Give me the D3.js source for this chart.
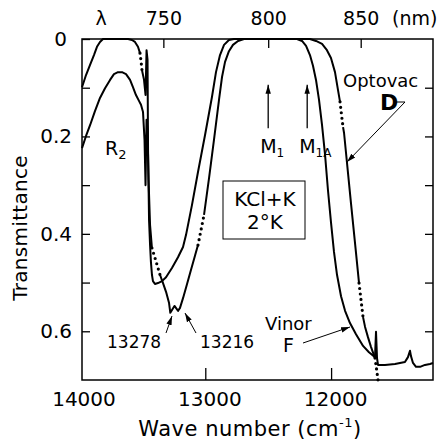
<!DOCTYPE html>
<html>
<head>
<meta charset="utf-8">
<script src="https://cdn.jsdelivr.net/npm/d3@7"></script>
<style>
  body { margin: 0; background: #fff; }
  svg { display: block; font-family: "DejaVu Sans", sans-serif; }
</style>
</head>
<body>
<div id="chart"></div>
<script>
// KCl+K at 2 K : transmittance against wave number (cm-1)
// each curve is [wave number, transmittance]; the *Dots lists hold the
// wave number ranges that are only drawn as dots
const curveF = [
  [13980, 0.099], [13948, 0.074], [13916, 0.053], [13885, 0.033], [13861, 0.016], [13837, 0.006], [13813, 0],
  [13614, 0], [13583, 0.002], [13559, 0.006], [13535, 0.016], [13519, 0.029], [13511, 0.045], [13503, 0.064],
  [13487, 0.084], [13475, 0.115], [13467, 0.023], [13459, 0.043], [13455, 0.228], [13447, 0.372], [13439, 0.423],
  [13432, 0.458], [13424, 0.484], [13416, 0.497], [13400, 0.503], [13376, 0.501], [13344, 0.497], [13312, 0.489],
  [13265, 0.470], [13217, 0.448], [13177, 0.427], [13153, 0.402], [13106, 0.341], [13058, 0.273], [13002, 0.197],
  [12947, 0.119], [12915, 0.068], [12883, 0.033], [12851, 0.012], [12812, 0.002], [12772, 0],
  [12271, 0], [12231, 0.004], [12199, 0.014], [12168, 0.033], [12144, 0.055], [12120, 0.084], [12096, 0.125],
  [12072, 0.177], [12048, 0.238], [12025, 0.310], [12001, 0.376], [11977, 0.437], [11953, 0.484], [11921, 0.528],
  [11889, 0.558], [11850, 0.583], [11802, 0.606], [11746, 0.630], [11699, 0.643], [11651, 0.653], [11643, 0.601],
  [11635, 0.655], [11627, 0.669], [11572, 0.669], [11492, 0.667], [11413, 0.663], [11389, 0.653], [11373, 0.640],
  [11365, 0.651], [11349, 0.665], [11325, 0.673], [11293, 0.673], [11254, 0.669], [11214, 0.667], [11190, 0.665]
]
const curveFDots = [[13519, 13503]]

const curveD = [
  [13980, 0.224], [13948, 0.199], [13916, 0.177], [13877, 0.148], [13837, 0.121], [13797, 0.101], [13757, 0.084],
  [13726, 0.072], [13694, 0.068], [13662, 0.068], [13630, 0.072], [13598, 0.084], [13575, 0.099], [13551, 0.115],
  [13527, 0.127], [13511, 0.135], [13495, 0.150], [13483, 0.207], [13475, 0.300], [13467, 0.166], [13459, 0.187],
  [13451, 0.289], [13439, 0.382], [13424, 0.429], [13392, 0.456], [13360, 0.484], [13336, 0.501], [13312, 0.519],
  [13288, 0.542], [13278, 0.562], [13245, 0.548], [13216, 0.558], [13201, 0.552], [13177, 0.532], [13145, 0.503],
  [13114, 0.474], [13082, 0.445], [13058, 0.423], [13034, 0.392], [13010, 0.361], [12970, 0.285], [12931, 0.207],
  [12891, 0.125], [12867, 0.078], [12843, 0.047], [12812, 0.025], [12780, 0.012], [12740, 0.004], [12692, 0],
  [12223, 0], [12168, 0], [12120, 0.004], [12072, 0.010], [12033, 0.023], [12001, 0.039], [11969, 0.068],
  [11945, 0.105], [11929, 0.129], [11917, 0.156], [11905, 0.181], [11897, 0.193], [11842, 0.337], [11802, 0.439],
  [11778, 0.501], [11762, 0.536], [11746, 0.571], [11730, 0.591], [11707, 0.612], [11683, 0.632], [11651, 0.655],
  [11639, 0.677], [11627, 0.700]
]
const curveDDots = [[13424, 13360], [13058, 13010], [11929, 11905], [11778, 11746], [11651, 11627]]

const yTicks = [0, 0.1, 0.2, 0.3, 0.4, 0.5, 0.6]
const yLabels = [0, 0.2, 0.4, 0.6]
const xTicks = [13000, 12000]
const xLabels = [14000, 13000, 12000]
const nmTicks = [750, 800, 850]
const bands = [{name: "M", sub: "1", w: 12500}, {name: "M", sub: "1A", w: 12190}]
const peaks = [13278, 13216]

const width = 445, height = 443
const margin = ({top: 39, right: 12, bottom: 63, left: 82})
const svg = d3.select("#chart").append("svg")
    .attr("width", width)
    .attr("height", height)

const x = d3.scaleLinear()
    .domain([13980, 11190])
    .range([margin.left, width - margin.right])
const y = d3.scaleLinear()
    .domain([0, 0.7])
    .range([margin.top, height - margin.bottom])

const defs = svg.append("defs")
defs.append("marker")
    .attr("id", "head")
    .attr("viewBox", "0 0 10 10")
    .attr("refX", 10).attr("refY", 5)
    .attr("markerWidth", 9).attr("markerHeight", 9)
    .attr("markerUnits", "userSpaceOnUse")
    .attr("orient", "auto")
  .append("path")
    .attr("d", "M0,2L10,5L0,8Z")
    .attr("fill", "#000")

// frame
svg.append("rect")
    .attr("x", x.range()[0]).attr("y", y.range()[0])
    .attr("width", x.range()[1] - x.range()[0])
    .attr("height", y.range()[1] - y.range()[0])
    .attr("fill", "none").attr("stroke", "#000").attr("stroke-width", 1.5)

function styleAxis(sel, size) {
  sel.select(".domain").remove()
  sel.attr("font-size", size).attr("font-family", "DejaVu Sans, sans-serif")
  sel.selectAll(".tick line").attr("stroke-width", 1.3)
}

// left axis
svg.append("g")
    .attr("transform", `translate(${margin.left},0)`)
    .call(d3.axisLeft(y).tickValues(yTicks).tickSize(-8).tickPadding(10)
      .tickFormat(d => yLabels.includes(d) ? (d === 0 ? "0" : d3.format(".1f")(d)) : ""))
    .call(g => styleAxis(g, 20))
    .call(g => g.selectAll("text").filter(d => d === 0).attr("dx", -5))

// right axis
svg.append("g")
    .attr("transform", `translate(${width - margin.right},0)`)
    .call(d3.axisRight(y).tickValues(yTicks.slice(1)).tickSize(-8).tickFormat(""))
    .call(g => styleAxis(g, 20))

// bottom axis: ticks, then labels
svg.append("g")
    .attr("transform", `translate(0,${height - margin.bottom})`)
    .call(d3.axisBottom(x).tickValues(xTicks).tickSize(-12).tickFormat(""))
    .call(g => styleAxis(g, 20))
svg.append("g")
    .attr("transform", `translate(0,${height - margin.bottom})`)
    .call(d3.axisBottom(x).tickValues(xLabels).tickSize(0).tickPadding(12).tickFormat(d3.format("d")))
    .call(g => styleAxis(g, 20))
    .call(g => g.selectAll("text").attr("dx", 4))

// top axis in nm
svg.append("g")
    .attr("transform", `translate(0,${margin.top})`)
    .call(d3.axisTop(x).tickValues(nmTicks.map(nm => 1e7 / nm)).tickSize(-9).tickPadding(14)
      .tickFormat((d, i) => nmTicks[i]))
    .call(g => styleAxis(g, 19))

svg.append("text").attr("x", 101).attr("y", 25).attr("text-anchor", "middle")
    .attr("font-size", 19).text("λ")
svg.append("text").attr("x", 392).attr("y", 25)
    .attr("font-size", 19).text("(nm)")

// axis titles
svg.append("text")
    .attr("transform", "translate(27,228) rotate(-90)")
    .attr("text-anchor", "middle").attr("font-size", 20).attr("letter-spacing", 0.3)
    .text("Transmittance")
const xt = svg.append("text")
    .attr("x", 250).attr("y", 436).attr("text-anchor", "middle")
    .attr("font-size", 21).attr("letter-spacing", 0.5)
xt.append("tspan").text("Wave number (cm")
xt.append("tspan").attr("font-size", 13).attr("dy", -9).text("-1")
xt.append("tspan").attr("dy", 9).text(")")

// curves
function drawCurve(points, dots) {
  const inDots = d => dots.some(([hi, lo]) => d[0] < hi && d[0] > lo)
  const solid = d3.line().defined(d => !inDots(d)).x(d => x(d[0])).y(d => y(d[1]))
  const plain = d3.line().x(d => x(d[0])).y(d => y(d[1]))
  svg.append("path")
      .datum(points)
      .attr("d", solid)
      .attr("fill", "none").attr("stroke", "#000").attr("stroke-width", 2)
      .attr("stroke-linejoin", "round")
  dots.forEach(([hi, lo]) => {
    svg.append("path")
        .datum(points.filter(d => d[0] <= hi && d[0] >= lo))
        .attr("d", plain)
        .attr("fill", "none").attr("stroke", "#000").attr("stroke-width", 3.2)
        .attr("stroke-linecap", "round").attr("stroke-dasharray", "0,5.5")
  })
}
drawCurve(curveF, curveFDots)
drawCurve(curveD, curveDDots)

// band arrows M1, M1A
bands.forEach((b, i) => {
  svg.append("line")
      .attr("x1", x(b.w)).attr("x2", x(b.w))
      .attr("y1", y(0.183)).attr("y2", y(0.094))
      .attr("stroke", "#000").attr("stroke-width", 1.3)
      .attr("marker-end", "url(#head)")
  const t = svg.append("text")
      .attr("x", x(b.w) - 8).attr("y", 153).attr("font-size", 19)
  t.append("tspan").text(b.name)
  t.append("tspan").attr("font-size", 12).attr("dy", 4).text(b.sub)
})

// R2
const r2 = svg.append("text").attr("x", 105).attr("y", 155).attr("font-size", 19)
r2.append("tspan").text("R")
r2.append("tspan").attr("font-size", 13).attr("dy", 4).text("2")

// sample box
svg.append("rect")
    .attr("x", 223).attr("y", 181).attr("width", 82).attr("height", 58)
    .attr("fill", "none").attr("stroke", "#000").attr("stroke-width", 1)
svg.append("text").attr("x", 265).attr("y", 206).attr("text-anchor", "middle")
    .attr("font-size", 20).text("KCl+K")
svg.append("text").attr("x", 265).attr("y", 229).attr("text-anchor", "middle")
    .attr("font-size", 20).text("2°K")

// peak labels
const peakLabel = [
  {x: 107, tail: [166, 333], tip: [172, 316]},
  {x: 200, tail: [196, 333], tip: [185, 313]}
]
peaks.forEach((p, i) => {
  const l = peakLabel[i]
  svg.append("text").attr("x", l.x).attr("y", 348).attr("font-size", 17).text(p)
  svg.append("line")
      .attr("x1", l.tail[0]).attr("y1", l.tail[1]).attr("x2", l.tip[0]).attr("y2", l.tip[1])
      .attr("stroke", "#000").attr("stroke-width", 1).attr("marker-end", "url(#head)")
})

// sample names
svg.append("text").attr("x", 343).attr("y", 87).attr("font-size", 18).text("Optovac")
svg.append("text").attr("x", 380).attr("y", 110).attr("font-size", 22).attr("font-weight", "bold").text("D")
svg.append("path")
    .attr("d", "M395,102L405,102L347,162")
    .attr("fill", "none").attr("stroke", "#000").attr("stroke-width", 1)
    .attr("marker-end", "url(#head)")

svg.append("text").attr("x", 265).attr("y", 330).attr("font-size", 18).text("Vinor")
svg.append("text").attr("x", 283).attr("y", 352).attr("font-size", 19).text("F")
svg.append("line")
    .attr("x1", 303).attr("y1", 343).attr("x2", 350).attr("y2", 327)
    .attr("stroke", "#000").attr("stroke-width", 1).attr("marker-end", "url(#head)")
</script>
</body>
</html>
